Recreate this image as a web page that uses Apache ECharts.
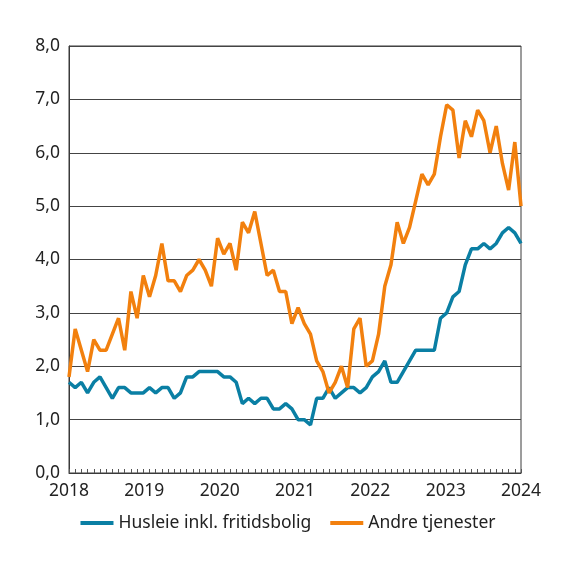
<!DOCTYPE html>
<html lang="no">
<head>
    <meta charset="UTF-8">
    <title>Husleie og andre tjenester</title>
    <script type="text/javascript" src="https://cdn.jsdelivr.net/npm/echarts@6/dist/echarts.min.js"></script>
    <style>
        html, body { margin: 0; padding: 0; background: #fff; }
    </style>
</head>
<body>
<div id="main" style="width: 576px;height: 568px;"></div>

<script type="text/javascript">

    // månedlige tall, januar 2018 - februar 2024
    var husleie = [
        1.7, 1.6, 1.7, 1.5, 1.7, 1.8, 1.6, 1.4, 1.6, 1.6, 1.5, 1.5,
        1.5, 1.6, 1.5, 1.6, 1.6, 1.4, 1.5, 1.8, 1.8, 1.9, 1.9, 1.9,
        1.9, 1.8, 1.8, 1.7, 1.3, 1.4, 1.3, 1.4, 1.4, 1.2, 1.2, 1.3,
        1.2, 1.0, 1.0, 0.9, 1.4, 1.4, 1.6, 1.4, 1.5, 1.6, 1.6, 1.5,
        1.6, 1.8, 1.9, 2.1, 1.7, 1.7, 1.9, 2.1, 2.3, 2.3, 2.3, 2.3,
        2.9, 3.0, 3.3, 3.4, 3.9, 4.2, 4.2, 4.3, 4.2, 4.3, 4.5, 4.6,
        4.5, 4.3
    ];
    var andreTjenester = [
        1.8, 2.7, 2.3, 1.9, 2.5, 2.3, 2.3, 2.6, 2.9, 2.3, 3.4, 2.9,
        3.7, 3.3, 3.7, 4.3, 3.6, 3.6, 3.4, 3.7, 3.8, 4.0, 3.8, 3.5,
        4.4, 4.1, 4.3, 3.8, 4.7, 4.5, 4.9, 4.3, 3.7, 3.8, 3.4, 3.4,
        2.8, 3.1, 2.8, 2.6, 2.1, 1.9, 1.5, 1.7, 2.0, 1.6, 2.7, 2.9,
        2.0, 2.1, 2.6, 3.5, 3.9, 4.7, 4.3, 4.6, 5.1, 5.6, 5.4, 5.6,
        6.3, 6.9, 6.8, 5.9, 6.6, 6.3, 6.8, 6.6, 6.0, 6.5, 5.8, 5.3,
        6.2, 5.0
    ];
    var years = ['2018', '2019', '2020', '2021', '2022', '2023', '2024'];
    var seriesNames = ['Husleie inkl. fritidsbolig', 'Andre tjenester'];

    // kategorier: en per måned
    var months = [];
    for (var i = 0; i < husleie.length; i++) {
        var y = 2018 + Math.floor(i / 12);
        var m = (i % 12) + 1;
        months.push(y + 'M' + (m < 10 ? '0' + m : m));
    }

    var font = 'Noto Sans';
    var textColor = '#222';
    var lineColor = '#3a3a3a';

    var chart = echarts.init(document.getElementById('main'));
    var option = {
        animation: false,
        grid: {
            left: 69,
            right: 55,
            top: 46,
            bottom: 95,
            show: true,
            borderColor: lineColor,
            borderWidth: 1
        },
        legend: {
            top: 509,
            left: 'center',
            icon: 'rect',
            itemWidth: 33,
            itemHeight: 4,
            itemGap: 19,
            textStyle: {
                fontFamily: font,
                fontSize: 17.5,
                color: textColor
            },
            data: seriesNames
        },
        xAxis: [
            {
                type: 'category',
                data: months,
                boundaryGap: false,
                position: 'bottom',
                axisLine: { show: true, lineStyle: { color: lineColor, width: 1 } },
                axisTick: {
                    show: true,
                    interval: 0,
                    inside: true,
                    length: 4,
                    lineStyle: { color: '#555', width: 1 }
                },
                axisLabel: { show: false },
                splitLine: { show: false }
            },
            {
                type: 'value',
                min: 0,
                max: years.length - 1,
                interval: 1,
                position: 'bottom',
                axisLine: { show: false },
                axisTick: { show: false },
                splitLine: { show: false },
                axisLabel: {
                    margin: 9,
                    fontFamily: font,
                    fontSize: 17.5,
                    color: textColor,
                    formatter: function (v) {
                        return years[Math.round(v)];
                    }
                }
            }
        ],
        yAxis: {
            type: 'value',
            min: 0,
            max: 8,
            interval: 1,
            axisLine: { show: true, lineStyle: { color: lineColor, width: 1 } },
            axisTick: { show: false },
            axisLabel: {
                margin: 9,
                fontFamily: font,
                fontSize: 17.5,
                color: textColor,
                formatter: function (v) {
                    return v.toFixed(1).replace('.', ',');
                }
            },
            splitLine: { lineStyle: { color: '#444', width: 1 } }
        },
        series: [
            {
                name: seriesNames[0],
                type: 'line',
                xAxisIndex: 0,
                data: husleie,
                showSymbol: false,
                color: '#0a7fa4',
                lineStyle: { width: 3.5, color: '#0a7fa4' }
            },
            {
                name: seriesNames[1],
                type: 'line',
                xAxisIndex: 0,
                data: andreTjenester,
                showSymbol: false,
                color: '#f2800e',
                lineStyle: { width: 3.5, color: '#f2800e' }
            }
        ]
    };
    chart.setOption(option);
</script>
</body>
</html>
